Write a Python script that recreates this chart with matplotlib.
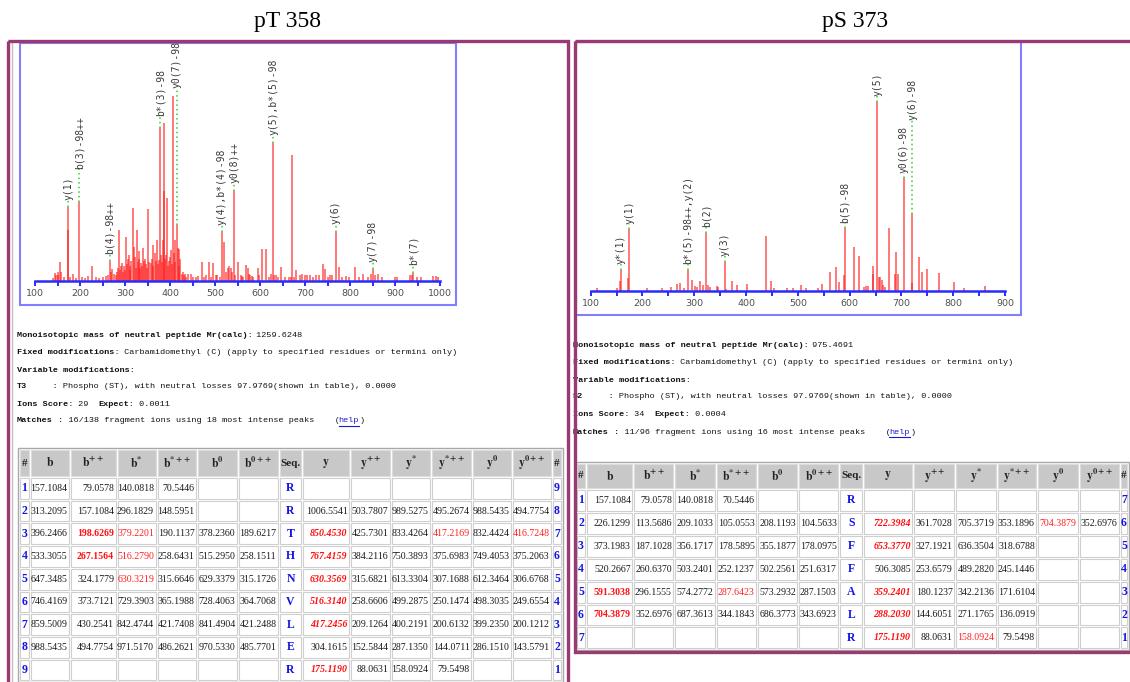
import matplotlib
matplotlib.use('Agg')
import matplotlib.pyplot as plt
from matplotlib.patches import Rectangle
import numpy as np

plt.rcParams['mathtext.fontset'] = 'stix'

W, H = 1130, 682

# ---------------- data ----------------
titles = ['pT 358', 'pS 373']

left_mz = [140, 145, 147, 150, 152, 155.5, 158, 165, 173, 174, 178, 185, 190, 198.5, 205, 212, 218, 227,
           235, 242, 250, 258, 262, 266.7, 269, 272, 275, 279, 282, 285, 287, 289, 291, 293, 295, 297, 300,
           302, 304, 306, 308, 310, 312, 314, 317, 320, 322, 324, 326, 328, 330, 332, 334, 336, 338, 340,
           342, 345, 347, 349, 352, 354, 357, 359, 361.5, 363, 367, 369, 372, 374, 376, 378.5, 380, 382,
           384, 386, 387.5, 389, 391, 394, 396, 398, 400, 403, 405, 406.7, 409, 410, 412, 415.5, 418, 419,
           421, 423, 426, 428, 431, 433, 436, 440, 447, 452, 457, 463, 470, 475, 480, 487, 492, 496, 502,
           505, 510, 515, 520, 525, 528, 532, 536, 538, 543, 545, 552, 558, 560, 563, 568, 573, 575, 578,
           582, 585, 595, 598, 604, 613, 620, 625, 629.6, 632, 636, 640, 646, 655, 665, 668, 672, 676, 680,
           688, 693, 700, 705, 712, 718, 725, 732, 739, 744, 750, 756, 760, 768, 775, 782, 790, 797, 810,
           820, 828, 840, 846, 850, 856, 863, 870, 900, 905, 933, 938, 941, 948, 958, 985, 990, 995]
left_int = [1.5, 4.1, 3, 3, 5, 10.4, 5, 2, 27.5, 39.7, 2, 3.6, 1.5, 42.8, 2, 1.5, 2.7, 8.1,
            2, 1.5, 2, 2.5, 3, 10.8, 5, 6.3, 4, 3, 5, 7, 27.5, 6, 8, 9.5, 5, 8, 6,
            24, 9, 12, 14, 8, 6, 11, 39.2, 18.5, 13, 7, 27.5, 10, 16, 12, 7, 9.5, 8, 17.6,
            11, 12, 9, 7, 38.7, 10, 9.5, 12, 19.4, 8, 15, 11, 22, 9, 11.5, 82.7, 14, 10,
            22, 48.7, 85, 12, 14, 44.6, 8, 11, 13, 16.7, 9, 100, 15, 22, 10, 30, 17.6, 8,
            17, 12, 3.6, 5, 3, 3.6, 2, 3.6, 3.6, 2, 2, 2.5, 10.4, 2, 3, 10.4, 2, 9.5, 3.5,
            3, 2, 26.3, 20.9, 5, 7, 8, 7.2, 5, 48.7, 3, 10.4, 3, 2.5, 2, 8.6, 7.2, 4, 3,
            2.5, 2, 6.8, 3, 17, 17, 2, 4, 74.6, 3, 3, 2, 7.7, 2, 2, 2, 68, 2, 6,
            3, 4, 3, 3, 3, 2, 3, 3, 9, 6.3, 2, 3, 3, 26.6, 7.7, 2, 2.5, 2, 7.7,
            2, 3.6, 2, 4, 6.3, 3, 3.6, 2, 2, 2, 3, 3, 4.5, 2, 2, 2.7, 2.7, 2]
left_ion_mz = [174.0, 198.5, 266.7, 378.5, 415.5, 515.0, 543.0, 629.6, 768.0, 850.0, 941.0]
left_ion_lab = ['y(1)', 'b(3)-98++', 'b(4)-98++', 'b*(3)-98', 'y0(7)-98', 'y(4),b*(4)-98',
                'y0(8)++', 'y(5),b*(5)-98', 'y(6)', 'y(7)-98', 'b*(7)']

right_mz = [111.6, 150, 156.5, 158, 172.5, 174, 209, 237, 254.5, 267, 272.5, 280, 287.3, 295, 301, 305,
            312, 317.5, 323.3, 327, 330, 343, 346, 358.7, 362, 373.5, 382, 401, 439, 448, 454, 480, 490,
            506, 516, 538, 546, 562, 574, 580, 590, 591, 608, 617.5, 628, 632, 635, 645, 646, 653, 656,
            659, 662, 665, 668, 676, 688, 689, 694, 704.4, 720, 721, 733, 740.5, 750, 773, 801.6, 821, 861]
right_int = [1.2, 1.5, 5.1, 10.9, 6.5, 32.5, 1.2, 1.2, 2.1, 3.5, 4.2, 1.2, 10.9, 5.6, 2.5, 1.8,
             5.1, 3, 30.7, 3, 2, 2.5, 1.8, 15.3, 1, 5.1, 3, 3.5, 28.9, 5.1, 1.2, 1.2, 1.2,
             3, 1.2, 1.2, 3.5, 9.7, 12.7, 4.8, 8.1, 33, 23.3, 18.3, 2.1, 2.5, 2.5, 8.8, 13.2, 100, 7,
             7, 5.6, 3, 2, 33, 8.8, 20.6, 8.8, 59.4, 3.9, 40.6, 17.6, 10, 11.5, 9.2, 4.4, 1.2, 2.5]
right_ion_mz = [158.0, 174.0, 287.3, 323.3, 358.7, 591.0, 653.0, 704.4, 721.0]
right_ion_lab = ['y*(1)', 'y(1)', 'b*(5)-98++,y(2)', 'b(2)', 'y(3)', 'b(5)-98', 'y(5)',
                 'y0(6)-98', 'y(6)-98']

info_left = [
    [("Monoisotopic mass of neutral peptide Mr(calc):", 'b'), (" 1259.6248", 'n')],
    [("Fixed modifications:", 'b'), (" Carbamidomethyl (C) (apply to specified residues or termini only)", 'n')],
    [("Variable modifications:", 'b')],
    [("T3", 'b'), ("     : Phospho (ST), with neutral losses 97.9769(shown in table), 0.0000", 'n')],
    [("Ions Score:", 'b'), (" 29  ", 'n'), ("Expect:", 'b'), (" 0.0011", 'n')],
    [("Matches", 'b'), (" : 16/138 fragment ions using 18 most intense peaks    (", 'n'), ("help", 'l'), (")", 'n')],
]
info_right = [
    [("Monoisotopic mass of neutral peptide Mr(calc):", 'b'), (" 975.4691", 'n')],
    [("Fixed modifications:", 'b'), (" Carbamidomethyl (C) (apply to specified residues or termini only)", 'n')],
    [("Variable modifications:", 'b')],
    [("S2", 'b'), ("     : Phospho (ST), with neutral losses 97.9769(shown in table), 0.0000", 'n')],
    [("Ions Score:", 'b'), (" 34  ", 'n'), ("Expect:", 'b'), (" 0.0004", 'n')],
    [("Matches", 'b'), (" : 11/96 fragment ions using 16 most intense peaks    (", 'n'), ("help", 'l'), (")", 'n')],
]

headers = ['#', r'$\mathbf{b}$', r'$\mathbf{b^{++}}$', r'$\mathbf{b^{*}}$', r'$\mathbf{b^{*++}}$',
           r'$\mathbf{b^{0}}$', r'$\mathbf{b^{0++}}$', 'Seq.', r'$\mathbf{y}$', r'$\mathbf{y^{++}}$',
           r'$\mathbf{y^{*}}$', r'$\mathbf{y^{*++}}$', r'$\mathbf{y^{0}}$', r'$\mathbf{y^{0++}}$', '#']

left_b = [157.1084, 313.2095, 396.2466, 533.3055, 647.3485, 746.4169, 859.5009, 988.5435, None]
left_b2 = [79.0578, 157.1084, 198.6269, 267.1564, 324.1779, 373.7121, 430.2541, 494.7754, None]
left_bs = [140.0818, 296.1829, 379.2201, 516.2790, 630.3219, 729.3903, 842.4744, 971.5170, None]
left_bs2 = [70.5446, 148.5951, 190.1137, 258.6431, 315.6646, 365.1988, 421.7408, 486.2621, None]
left_b0 = [None, None, 378.2360, 515.2950, 629.3379, 728.4063, 841.4904, 970.5330, None]
left_b02 = [None, None, 189.6217, 258.1511, 315.1726, 364.7068, 421.2488, 485.7701, None]
left_seq = ['R', 'R', 'T', 'H', 'N', 'V', 'L', 'E', 'R']
left_y = [None, 1006.5541, 850.4530, 767.4159, 630.3569, 516.3140, 417.2456, 304.1615, 175.1190]
left_y2 = [None, 503.7807, 425.7301, 384.2116, 315.6821, 258.6606, 209.1264, 152.5844, 88.0631]
left_ys = [None, 989.5275, 833.4264, 750.3893, 613.3304, 499.2875, 400.2191, 287.1350, 158.0924]
left_ys2 = [None, 495.2674, 417.2169, 375.6983, 307.1688, 250.1474, 200.6132, 144.0711, 79.5498]
left_y0 = [None, 988.5435, 832.4424, 749.4053, 612.3464, 498.3035, 399.2350, 286.1510, None]
left_y02 = [None, 494.7754, 416.7248, 375.2063, 306.6768, 249.6554, 200.1212, 143.5791, None]

right_b = [157.1084, 226.1299, 373.1983, 520.2667, 591.3038, 704.3879, None]
right_b2 = [79.0578, 113.5686, 187.1028, 260.6370, 296.1555, 352.6976, None]
right_bs = [140.0818, 209.1033, 356.1717, 503.2401, 574.2772, 687.3613, None]
right_bs2 = [70.5446, 105.0553, 178.5895, 252.1237, 287.6423, 344.1843, None]
right_b0 = [None, 208.1193, 355.1877, 502.2561, 573.2932, 686.3773, None]
right_b02 = [None, 104.5633, 178.0975, 251.6317, 287.1503, 343.6923, None]
right_seq = ['R', 'S', 'F', 'F', 'A', 'L', 'R']
right_y = [None, 722.3984, 653.3770, 506.3085, 359.2401, 288.2030, 175.1190]
right_y2 = [None, 361.7028, 327.1921, 253.6579, 180.1237, 144.6051, 88.0631]
right_ys = [None, 705.3719, 636.3504, 489.2820, 342.2136, 271.1765, 158.0924]
right_ys2 = [None, 353.1896, 318.6788, 245.1446, 171.6104, 136.0919, 79.5498]
right_y0 = [None, 704.3879, None, None, None, None, None]
right_y02 = [None, 352.6976, None, None, None, None, None]

# matched cells: (column index, row index) -> style
left_hits = {(2, 2): 'b', (3, 2): 'r', (2, 3): 'b', (3, 3): 'r', (3, 4): 'r',
             (8, 2): 'bi', (8, 3): 'bi', (8, 4): 'bi', (8, 5): 'bi', (8, 6): 'bi', (8, 8): 'bi',
             (11, 2): 'r', (13, 2): 'r'}
right_hits = {(1, 4): 'b', (4, 4): 'r', (1, 5): 'b',
              (8, 1): 'bi', (8, 2): 'bi', (8, 4): 'bi', (8, 5): 'bi', (8, 6): 'bi',
              (12, 1): 'r', (10, 6): 'r'}

# ---------------- styles ----------------
PURPLE = '#993a72'
BOXBLUE = '#8080ff'
AXBLUE = '#2a2aff'
PEAK = '#ff2020'
BLUE_TXT = '#1414e6'

fig = plt.figure(figsize=(W / 100, H / 100), dpi=100)
bg = fig.add_axes([0, 0, 1, 1])
bg.set_xlim(0, W)
bg.set_ylim(H, 0)
bg.axis('off')


def px_axes(l, t, r, b):
    return fig.add_axes([l / W, 1 - b / H, (r - l) / W, (b - t) / H])


# titles
bg.text(288, 22, titles[0], ha='center', va='center', fontsize=17, family='Liberation Serif')
bg.text(855, 22, titles[1], ha='center', va='center', fontsize=17, family='Liberation Serif')

# panel frames
bg.add_patch(Rectangle((8, 41), 559.5, 660, fill=False, edgecolor=PURPLE, lw=2.4, zorder=5))
bg.plot([11.5, 11.5], [43, 682], color='#c0c0c0', lw=1)
bg.add_patch(Rectangle((574.5, 40.5), 600, 611.5, fill=False, edgecolor=PURPLE, lw=2.4, zorder=5))

# spectrum boxes
bg.add_patch(Rectangle((19.5, 43), 436.5, 262, fill=False, edgecolor=BOXBLUE, lw=1.5))
bg.add_patch(Rectangle((576, 42), 445, 273, fill=False, edgecolor=BOXBLUE, lw=1.5))

fig.canvas.draw()
renderer = fig.canvas.get_renderer()


def draw_spectrum(ax, mz, inten, ion_mz, ion_lab, xmax, ytop, gap, win, stack_px):
    mz = np.asarray(mz, float)
    inten = np.asarray(inten, float)
    ax.vlines(mz, 0, inten, color=PEAK, lw=1.4, alpha=0.6, zorder=2)
    ax.set_xlim(100, xmax)
    ax.set_ylim(0, ytop)
    for s in ['top', 'right', 'left']:
        ax.spines[s].set_visible(False)
    ax.spines['bottom'].set_color(AXBLUE)
    ax.spines['bottom'].set_linewidth(1.8)
    ax.set_yticks([])
    ax.set_xticks(np.arange(100, xmax + 1, 100))
    ax.set_xticks(np.arange(150, xmax, 100), minor=True)
    ax.tick_params(axis='x', which='both', colors=AXBLUE, length=3.8, width=1.4, direction='out',
                   pad=2.2, labelsize=6.8, labelcolor='#505050')
    for lab in ax.get_xticklabels():
        lab.set_family('DejaVu Sans')
    ax.patch.set_alpha(0)
    px_per_mz = ax.bbox.width / (xmax - 100)
    stack_win = stack_px / px_per_mz
    prev_mz, prev_top = None, None
    inv = ax.transData.inverted()
    for m, lab in sorted(zip(ion_mz, ion_lab)):
        idx = int(np.argmin(np.abs(mz - m)))
        h = inten[idx]
        local = inten[np.abs(mz - m) <= win].max()
        bottom = local + gap
        if prev_mz is not None and m - prev_mz < stack_win:
            bottom = max(bottom, prev_top + gap)
        t = ax.text(m, bottom, lab, rotation=90, ha='center', va='bottom', fontsize=7,
                    family='DejaVu Sans Mono', color='#3a3a3a', clip_on=True, zorder=4)
        ax.plot([m, m], [h, bottom], ls=(0, (1, 2)), color='#33cc33', lw=1.1, zorder=3)
        bb = t.get_window_extent(renderer)
        top = inv.transform((bb.x0, bb.y1))[1]
        prev_mz, prev_top = m, top


axL = px_axes(35, 43, 440, 281)
draw_spectrum(axL, left_mz, left_int, left_ion_mz, left_ion_lab, 1000, 128.4, 4.0, 12, 12)
axR = px_axes(590.7, 42, 1005, 290.7)
draw_spectrum(axR, right_mz, right_int, right_ion_mz, right_ion_lab, 900, 131.6, 3.0, 12, 12)

# ---------------- info text ----------------
FS = 6.1
CW = 0.6001 * FS * 100 / 72.0


def draw_info(x0, ys, lines):
    for y, segs in zip(ys, lines):
        n = 0
        shift = 0.0
        for txt, st in segs:
            if st == 'l':
                shift += 1.2
            x = x0 + n * CW + shift
            if st == 'l':
                bg.text(x, y, txt, ha='left', va='center', fontsize=FS, family='Liberation Mono',
                        color='#1a1acc')
                bg.plot([x, x + len(txt) * CW], [y + 4.5, y + 4.5], color='#1a1acc', lw=0.8)
                shift += 1.2
            else:
                bg.text(x, y, txt, ha='left', va='center', fontsize=FS, family='Liberation Mono',
                        fontweight='bold' if st == 'b' else 'normal', color='#111111')
            n += len(txt)


draw_info(17, [335.7, 352.7, 370, 386.7, 404, 421], info_left)
draw_info(573, [345.7, 363, 380.7, 397, 415, 432], info_right)


# ---------------- tables ----------------
def draw_table(edges, top, head_h, row_h, bcols, seq, ycols, hits):
    n = len(seq)
    cols = [None] + bcols + [None] + ycols + [None]
    bg.add_patch(Rectangle((edges[0] - 1, top - 1), edges[-1] - edges[0] + 2, head_h + n * row_h + 2,
                           fill=False, edgecolor='#a8a8a8', lw=1.0))
    for c in range(len(edges) - 1):
        x0, x1 = edges[c], edges[c + 1]
        xc = 0.5 * (x0 + x1)
        bg.add_patch(Rectangle((x0 + 1, top + 1), x1 - x0 - 2, head_h - 2, facecolor='#c8c8c8',
                               edgecolor='#dcdcdc', lw=0.8))
        if headers[c] in ('#', 'Seq.'):
            bg.text(xc, top + head_h / 2, headers[c], ha='center', va='center', fontsize=8,
                    family='Liberation Serif', fontweight='bold', color='#222222')
        else:
            bg.text(xc, top + head_h / 2, headers[c], ha='center', va='center', fontsize=8.5,
                    color='#222222')
        for r in range(n):
            y0 = top + head_h + r * row_h
            yc = y0 + row_h / 2
            bg.add_patch(Rectangle((x0 + 1, y0 + 1), x1 - x0 - 2, row_h - 2, facecolor='white',
                                   edgecolor='#cfcfcf', lw=0.8))
            if c == 0:
                bg.text(xc, yc, str(r + 1), ha='center', va='center', fontsize=8.5,
                        family='Liberation Serif', fontweight='bold', color=BLUE_TXT)
            elif c == len(edges) - 2:
                bg.text(xc, yc, str(n - r), ha='center', va='center', fontsize=8.5,
                        family='Liberation Serif', fontweight='bold', color=BLUE_TXT)
            elif c == 7:
                bg.text(xc, yc, seq[r], ha='center', va='center', fontsize=8.5,
                        family='Liberation Serif', fontweight='bold', color=BLUE_TXT)
            else:
                v = cols[c][r]
                if v is None:
                    continue
                st = hits.get((c, r))
                kw = dict(color='#1a1a1a', fontweight='normal', fontstyle='normal')
                if st == 'b':
                    kw = dict(color='#ff1010', fontweight='bold', fontstyle='normal')
                elif st == 'r':
                    kw = dict(color='#ff2020', fontweight='normal', fontstyle='normal')
                elif st == 'bi':
                    kw = dict(color='#ff1010', fontweight='bold', fontstyle='italic')
                bg.text(x1 - 2.5, yc, f'{v:.4f}', ha='right', va='center', fontsize=7.1,
                        family='Liberation Serif', **kw)


left_edges = [19, 30, 70, 116.5, 156.5, 197, 238, 279, 302, 350, 391, 431, 472, 512, 552, 562]
draw_table(left_edges, 449, 28, 22.7,
           [left_b, left_b2, left_bs, left_bs2, left_b0, left_b02], left_seq,
           [left_y, left_y2, left_ys, left_ys2, left_y0, left_y02], left_hits)

right_edges = [576, 586, 633.3, 674.3, 715.7, 757.3, 798.3, 839.3, 863.3, 913.3, 955, 996.7,
               1037.3, 1079, 1120, 1128]
draw_table(right_edges, 463, 26, 22.9,
           [right_b, right_b2, right_bs, right_bs2, right_b0, right_b02], right_seq,
           [right_y, right_y2, right_ys, right_ys2, right_y0, right_y02], right_hits)

fig.savefig('out.png', dpi=100)
